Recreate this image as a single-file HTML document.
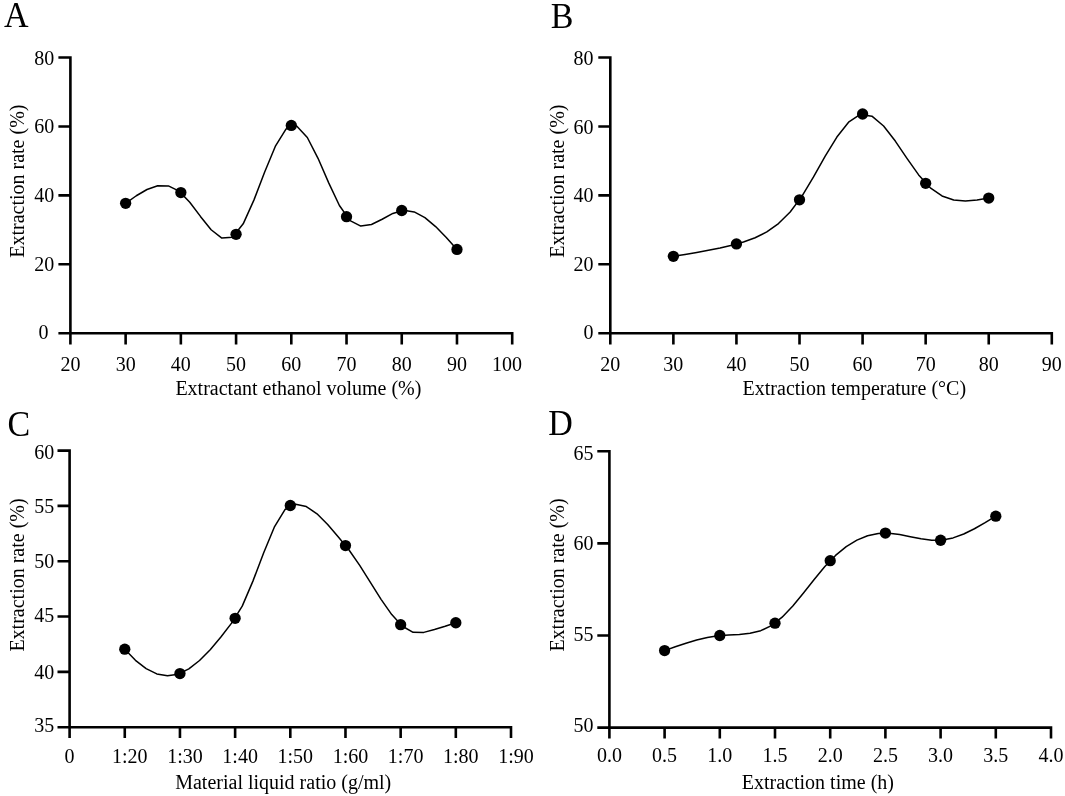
<!DOCTYPE html>
<html lang="en">
<head>
<meta charset="utf-8">
<title>Extraction rate single-factor experiments</title>
<style>
html,body{margin:0;padding:0;background:#fff;}
body{width:1065px;height:796px;overflow:hidden;font-family:"Liberation Serif",serif;}
svg{display:block;filter:grayscale(1);}
text{font-family:"Liberation Serif",serif;fill:#000;}
.t{font-size:20px;}
.m{text-anchor:middle;}
.e{text-anchor:end;}
.pl{font-size:34px;}
.ax{fill:none;stroke:#000;stroke-width:2.6;stroke-linecap:butt;}
.cv{fill:none;stroke:#000;stroke-width:1.5;stroke-linejoin:round;stroke-linecap:round;}
circle{fill:#000;}
</style>
</head>
<body>
<svg width="1065" height="796" viewBox="0 0 1065 796">
<rect width="1065" height="796" fill="#fff"/>
<!-- panel A -->
<path class="ax" d="M70.4 56.2V344.6M58.4 333.2H513.5M125.63 333.2v11.4M180.85 333.2v11.4M236.08 333.2v11.4M291.3 333.2v11.4M346.53 333.2v11.4M401.75 333.2v11.4M456.98 333.2v11.4M512.2 333.2v11.4M70.4 264.27h-12M70.4 195.35h-12M70.4 126.43h-12M70.4 57.5h-12"/>
<text class="t m" x="70.4" y="370.85">20</text>
<text class="t m" x="125.63" y="370.85">30</text>
<text class="t m" x="180.85" y="370.85">40</text>
<text class="t m" x="236.08" y="370.85">50</text>
<text class="t m" x="291.3" y="370.85">60</text>
<text class="t m" x="346.53" y="370.85">70</text>
<text class="t m" x="401.75" y="370.85">80</text>
<text class="t m" x="456.98" y="370.85">90</text>
<text class="t m" x="506.9" y="370.85">100</text>
<text class="t e" x="48.6" y="339.2">0</text>
<text class="t e" x="54.2" y="270.6">20</text>
<text class="t e" x="54.2" y="202">40</text>
<text class="t e" x="54.2" y="133.4">60</text>
<text class="t e" x="54.2" y="64.8">80</text>
<text class="t" x="175.4" y="395.3">Extractant ethanol volume (%)</text>
<text class="t" transform="translate(24.2 257.8) rotate(-90)">Extraction rate (%)</text>
<text class="pl" transform="translate(4 26.6) scale(1 1.06)">A</text>
<polyline class="cv" points="125.63,203.28 136.31,195.76 147,189.51 157.69,185.81 168.38,185.93 179.07,191.14 189.76,202.2 200.45,216.42 211.13,229.73 221.82,238.04 232.51,237.27 243.2,223.84 253.89,200.11 264.58,172.24 275.27,146.46 285.96,129.03 296.64,125.93 307.33,137.47 318.02,158.31 328.71,182.84 339.4,205.46 350.09,220.63 360.78,226.07 371.47,224.54 382.15,219.27 392.84,213.45 403.53,210.31 414.22,211.93 424.91,217.69 435.6,226.55 446.29,237.49 456.98,249.46"/>
<circle cx="125.63" cy="203.28" r="5.65"/>
<circle cx="180.85" cy="192.59" r="5.65"/>
<circle cx="236.08" cy="234.29" r="5.65"/>
<circle cx="291.3" cy="125.39" r="5.65"/>
<circle cx="346.53" cy="216.72" r="5.65"/>
<circle cx="401.75" cy="210.51" r="5.65"/>
<circle cx="456.98" cy="249.46" r="5.65"/>
<!-- panel B -->
<path class="ax" d="M610.3 56.2V344.6M598.3 333.2H1053.1M673.37 333.2v11.4M736.44 333.2v11.4M799.51 333.2v11.4M862.59 333.2v11.4M925.66 333.2v11.4M988.73 333.2v11.4M1051.8 333.2v11.4M610.3 264.27h-12M610.3 195.35h-12M610.3 126.43h-12M610.3 57.5h-12"/>
<text class="t m" x="610.3" y="370.85">20</text>
<text class="t m" x="673.37" y="370.85">30</text>
<text class="t m" x="736.44" y="370.85">40</text>
<text class="t m" x="799.51" y="370.85">50</text>
<text class="t m" x="862.59" y="370.85">60</text>
<text class="t m" x="925.66" y="370.85">70</text>
<text class="t m" x="988.73" y="370.85">80</text>
<text class="t m" x="1051.8" y="370.85">90</text>
<text class="t e" x="593.4" y="339.1">0</text>
<text class="t e" x="593.4" y="270.57">20</text>
<text class="t e" x="593.4" y="202.05">40</text>
<text class="t e" x="593.4" y="133.53">60</text>
<text class="t e" x="593.4" y="65">80</text>
<text class="t" x="742.6" y="395.3">Extraction temperature (°C)</text>
<text class="t" transform="translate(564.2 257.8) rotate(-90)">Extraction rate (%)</text>
<text class="pl" transform="translate(550.8 27.9) scale(1 1.06)">B</text>
<polyline class="cv" points="673.37,256.35 685.05,254.46 696.73,252.48 708.41,250.33 720.09,247.92 731.77,245.16 743.45,241.95 755.13,237.79 766.81,231.93 778.49,223.58 790.17,211.98 801.85,196.35 813.53,176.93 825.21,156.23 836.89,137.05 848.57,122.19 860.25,114.46 871.93,116.18 883.61,126.03 895.29,141.06 906.97,158.34 918.65,174.91 930.33,187.87 942.01,195.94 953.69,200 965.37,201.04 977.05,200.08 988.73,198.11"/>
<circle cx="673.37" cy="256.35" r="5.65"/>
<circle cx="736.44" cy="243.94" r="5.65"/>
<circle cx="799.51" cy="199.83" r="5.65"/>
<circle cx="862.59" cy="114.02" r="5.65"/>
<circle cx="925.66" cy="183.29" r="5.65"/>
<circle cx="988.73" cy="198.11" r="5.65"/>
<!-- panel C -->
<path class="ax" d="M69.6 449.3V738M57.5 727.2H512.3M124.77 727.2v10.8M179.95 727.2v10.8M235.12 727.2v10.8M290.3 727.2v10.8M345.48 727.2v10.8M400.65 727.2v10.8M455.82 727.2v10.8M511 727.2v10.8M69.6 671.88h-12.1M69.6 616.56h-12.1M69.6 561.24h-12.1M69.6 505.92h-12.1M69.6 450.6h-12.1"/>
<text class="t m" x="69.6" y="763.05">0</text>
<text class="t m" x="129.77" y="763.05">1:20</text>
<text class="t m" x="184.95" y="763.05">1:30</text>
<text class="t m" x="240.12" y="763.05">1:40</text>
<text class="t m" x="295.3" y="763.05">1:50</text>
<text class="t m" x="350.48" y="763.05">1:60</text>
<text class="t m" x="405.65" y="763.05">1:70</text>
<text class="t m" x="460.82" y="763.05">1:80</text>
<text class="t m" x="516" y="763.05">1:90</text>
<text class="t e" x="54.2" y="731.8">35</text>
<text class="t e" x="54.2" y="678.68">40</text>
<text class="t e" x="54.2" y="621.66">45</text>
<text class="t e" x="54.2" y="567.94">50</text>
<text class="t e" x="54.2" y="512.92">55</text>
<text class="t e" x="54.2" y="459.1">60</text>
<text class="t" x="175.2" y="788.5">Material liquid ratio (g/ml)</text>
<text class="t" transform="translate(24.2 651.6) rotate(-90)">Extraction rate (%)</text>
<text class="pl" transform="translate(7.4 436.1) scale(1 1.06)">C</text>
<polyline class="cv" points="124.77,649.2 135.45,660.31 146.13,668.64 156.81,673.92 167.49,675.86 178.17,674.19 188.85,668.86 199.53,660.49 210.21,649.68 220.89,637.03 231.57,623.14 242.24,606.16 252.92,581.11 263.6,552.92 274.28,527.18 284.96,509.52 295.64,504.26 306.32,506.55 317,513.81 327.68,524.48 338.36,536.97 349.03,549.97 359.71,565.32 370.39,582.37 381.07,599.36 391.75,614.57 402.43,626.27 413.11,632.3 423.79,632.4 434.47,629.5 445.15,626.3 455.82,622.76"/>
<circle cx="124.77" cy="649.2" r="5.65"/>
<circle cx="179.95" cy="673.54" r="5.65"/>
<circle cx="235.12" cy="618.33" r="5.65"/>
<circle cx="290.3" cy="505.48" r="5.65"/>
<circle cx="345.48" cy="545.53" r="5.65"/>
<circle cx="400.65" cy="624.64" r="5.65"/>
<circle cx="455.82" cy="622.76" r="5.65"/>
<!-- panel D -->
<path class="ax" d="M609.4 450V738.4M597.3 727.6H1052.3M664.6 727.6v10.8M719.8 727.6v10.8M775 727.6v10.8M830.2 727.6v10.8M885.4 727.6v10.8M940.6 727.6v10.8M995.8 727.6v10.8M1051 727.6v10.8M609.4 635.5h-12.1M609.4 543.4h-12.1M609.4 451.3h-12.1"/>
<text class="t m" x="609.4" y="762.4">0.0</text>
<text class="t m" x="664.6" y="762.4">0.5</text>
<text class="t m" x="719.8" y="762.4">1.0</text>
<text class="t m" x="775" y="762.4">1.5</text>
<text class="t m" x="830.2" y="762.4">2.0</text>
<text class="t m" x="885.4" y="762.4">2.5</text>
<text class="t m" x="940.6" y="762.4">3.0</text>
<text class="t m" x="995.8" y="762.4">3.5</text>
<text class="t m" x="1051" y="762.4">4.0</text>
<text class="t e" x="593.4" y="732.4">50</text>
<text class="t e" x="593.4" y="641.43">55</text>
<text class="t e" x="593.4" y="550.47">60</text>
<text class="t e" x="593.4" y="459.5">65</text>
<text class="t" x="741.8" y="788.7">Extraction time (h)</text>
<text class="t" transform="translate(564.2 651.6) rotate(-90)">Extraction rate (%)</text>
<text class="pl" transform="translate(548.3 434.7) scale(1 1.06)">D</text>
<polyline class="cv" points="664.6,650.6 675.28,646.79 685.97,643.18 696.65,639.99 707.34,637.43 718.02,635.69 728.7,634.89 739.39,634.4 750.07,633.3 760.75,630.66 771.44,625.56 782.12,617.19 792.81,605.94 803.49,592.96 814.17,579.44 824.86,566.55 835.54,555.45 846.23,546.67 856.91,540.15 867.59,535.79 878.28,533.5 888.96,533.19 899.65,534.49 910.33,536.64 921.01,538.83 931.7,540.25 942.38,540.1 953.06,537.91 963.75,533.98 974.43,528.76 985.12,522.66 995.8,516.14"/>
<circle cx="664.6" cy="650.6" r="5.65"/>
<circle cx="719.8" cy="635.5" r="5.65"/>
<circle cx="775" cy="623.16" r="5.65"/>
<circle cx="830.2" cy="560.71" r="5.65"/>
<circle cx="885.4" cy="533.08" r="5.65"/>
<circle cx="940.6" cy="540.27" r="5.65"/>
<circle cx="995.8" cy="516.14" r="5.65"/>
</svg>
</body>
</html>
